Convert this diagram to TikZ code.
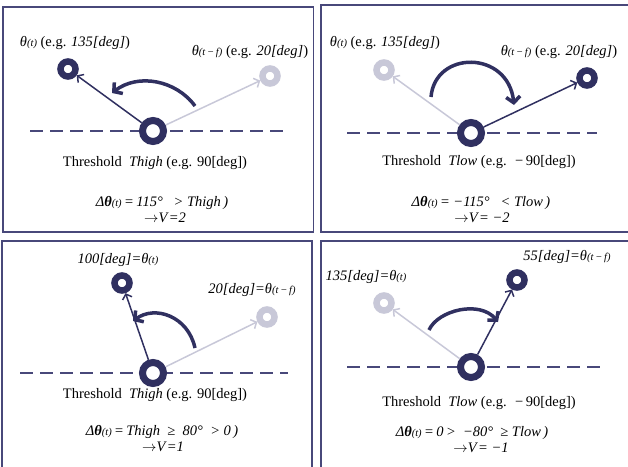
\documentclass[tikz,border=0pt]{standalone}
\usepackage{fontspec}
\setmainfont{Liberation Serif}
\usetikzlibrary{arrows.meta,positioning}
\definecolor{navy}{RGB}{48,48,96}
\definecolor{edge}{RGB}{72,72,122}
\definecolor{ghost}{RGB}{200,200,216}
\newcommand{\smallt}[1]{{\fontsize{10.5}{11}\selectfont\textit{#1}}}
\newcommand{\thT}{\textit{θ}\smallt{(t)}}
\newcommand{\thTF}{\textit{θ}\smallt{(t\,−\,f)}}
\newcommand{\dthT}{\textit{Δ}\textbf{\textit{θ}}\smallt{(t)}}
\newcommand{\toV}{$\rightarrow$\textit{V}}

\begin{document}
\begin{tikzpicture}[
  x=1pt, y=-1pt,
  font=\fontsize{14.5}{16}\selectfont,
  panel/.style={draw=edge, line width=1.8pt},
  hub/.style={circle, draw=navy, fill=white, line width=7pt, minimum size=21pt, inner sep=0pt},
  knob/.style={circle, draw=navy, fill=white, line width=6.5pt, minimum size=15pt, inner sep=0pt},
  knobold/.style={knob, draw=ghost},
  thr/.style={draw=edge, line width=2.7pt, dash pattern=on 13pt off 7pt},
  ray/.style={draw=navy, line width=1.5pt, -{Straight Barb[length=4.5pt,width=10pt]}},
  rayold/.style={ray, draw=ghost},
  swing/.style={draw=navy, line width=3.5pt, -{Straight Barb[length=6pt,width=14pt]}},
]
\useasboundingbox (0,0) rectangle (628,466);

% panel frames
\draw[panel] (3,7) rectangle (313.5,232);
\draw[panel] (321,5) rectangle (640,232);
\draw[panel] (2,241) rectangle (312,480);
\draw[panel] (321,241) rectangle (640,480);

% Panel A: large swing past Thigh -> V=2
\coordinate (thrA0) at (30,131);
\coordinate (thrA1) at (288,131);
\draw[thr] (thrA0) -- (thrA1);
\node[hub] (hubA) at (153,131) {};
\node[knob] (nowA) at (68,69) {};
\node[knobold] (prevA) at (270,76) {};
\draw[ray] (hubA) -- (nowA);
\draw[rayold] (hubA) -- (prevA);
\coordinate (swA0) at (195,106);
\coordinate (swA1) at (112,93);
\draw[swing] (swA0) .. controls (176,80) and (138,73) .. (swA1);
\node (nowAlbl) at (75,43) {\thT\ (e.g. \textit{135[deg]})};
\node (prevAlbl) at (250,52) {\thTF\ (e.g. \textit{20[deg]})};
\node (thrAlbl) at (155,163) {Threshold\ \ \textit{Thigh} (e.g. 90[deg])};
\node (dAlbl) at (162,203) {\dthT\textit{\,=\,115°\ \ \ > Thigh\,)}};
\node (vAlbl) at (165,218) {\toV\textit{=2}};

% Panel B: large swing below Tlow -> V=-2
\coordinate (thrB0) at (347,133);
\coordinate (thrB1) at (597,133);
\draw[thr] (thrB0) -- (thrB1);
\node[hub] (hubB) at (471,133) {};
\node[knobold] (nowB) at (384,70) {};
\node[knob] (prevB) at (587,78) {};
\draw[rayold] (hubB) -- (nowB);
\draw[ray] (hubB) -- (prevB);
\coordinate (swB0) at (431,97);
\coordinate (swB1) at (514,105);
\draw[swing] (swB0) .. controls (435,50) and (508,50) .. (swB1);
\node (nowBlbl) at (385,43) {\thT\ (e.g. \textit{135[deg]})};
\node (prevBlbl) at (559,52) {\thTF\ (e.g. \textit{20[deg]})};
\node (thrBlbl) at (479,162) {Threshold\ \ \textit{Tlow} (e.g. \ −\,90[deg])};
\node (dBlbl) at (481,203) {\dthT\textit{\,=\ −115°\ \ \ < Tlow\,)}};
\node (vBlbl) at (482,218) {\toV\textit{=\ −2}};

% Panel C: small swing, between 0 and Thigh -> V=1
\coordinate (thrC0) at (20,373);
\coordinate (thrC1) at (288,373);
\draw[thr] (thrC0) -- (thrC1);
\node[hub] (hubC) at (153,373) {};
\node[knob] (nowC) at (122,283) {};
\node[knobold] (prevC) at (267,317) {};
\draw[ray] (hubC) -- (nowC);
\draw[rayold] (hubC) -- (prevC);
\coordinate (swC0) at (195,348);
\coordinate (swC1) at (133,321);
\draw[swing] (swC0) .. controls (188,316) and (155,305) .. (swC1);
\node (nowClbl) at (118,260) {\textit{100[deg]=}\thT};
\node (prevClbl) at (252,290) {\textit{20[deg]=}\thTF};
\node (thrClbl) at (155,395) {Threshold\ \ \textit{Thigh} (e.g. 90[deg])};
\node (dClbl) at (162,432) {\dthT\textit{\,=\,Thigh\ \ ≥\ \ 80°\ \ > 0\,)}};
\node (vClbl) at (163,447) {\toV\textit{=1}};

% Panel D: small swing, between Tlow and 0 -> V=-1
\coordinate (thrD0) at (347,367);
\coordinate (thrD1) at (607,367);
\draw[thr] (thrD0) -- (thrD1);
\node[hub] (hubD) at (471,367) {};
\node[knobold] (nowD) at (384,303) {};
\node[knob] (prevD) at (517,280) {};
\draw[rayold] (hubD) -- (nowD);
\draw[ray] (hubD) -- (prevD);
\coordinate (swD0) at (429,330);
\coordinate (swD1) at (498,322);
\draw[swing] (swD0) .. controls (438,310) and (480,300) .. (swD1);
\node (nowDlbl) at (366,277) {\textit{135[deg]=}\thT};
\node (prevDlbl) at (567,257) {\textit{55[deg]=}\thTF};
\node (thrDlbl) at (479,403) {Threshold\ \ \textit{Tlow} (e.g. \ −\,90[deg])};
\node (dDlbl) at (472,433) {\dthT\textit{\,=\,0\,>\ \ −80°\ \ ≥\ Tlow\,)}};
\node (vDlbl) at (481,448) {\toV\textit{=\ −1}};
\end{tikzpicture}
\end{document}
